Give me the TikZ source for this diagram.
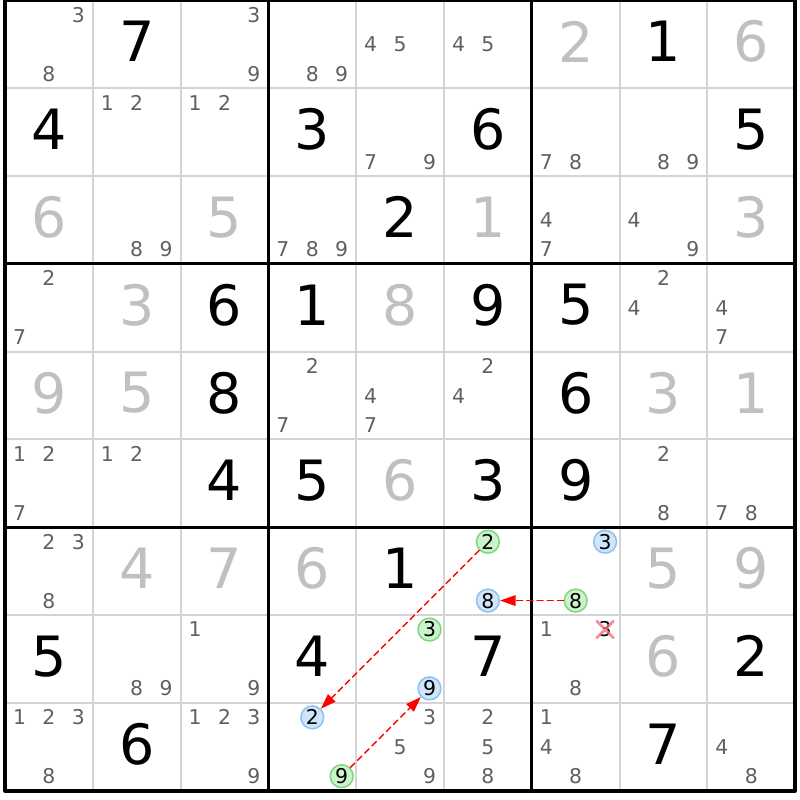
\documentclass[tikz,border=0pt]{standalone}
\usepackage{fontspec}
\setmainfont{DejaVu Sans}
\usetikzlibrary{arrows.meta}

\definecolor{solvedgray}{HTML}{C0C0C0}
\definecolor{candgray}{HTML}{606060}
\definecolor{thingrid}{HTML}{D4D4D4}
\definecolor{bluefill}{HTML}{CFE5FB}
\definecolor{blueline}{HTML}{8FC2EE}
\definecolor{greenfill}{HTML}{CDF3CD}
\definecolor{greenline}{HTML}{7ED77E}
\definecolor{crossred}{HTML}{F07880}

\tikzset{
  given/.style={font=\fontsize{18}{18}\selectfont, text=black, inner sep=0pt},
  solved/.style={given, text=solvedgray},
  cand/.style={font=\fontsize{6.6}{6.6}\selectfont, text=candgray, inner sep=0pt},
  greenmark/.style={cand, text=black, circle, draw=greenline, fill=greenfill,
    line width=0.5pt, minimum size=0.26cm},
  bluemark/.style={greenmark, draw=blueline, fill=bluefill},
  link/.style={red, dash pattern=on 2pt off 1.3pt, line width=0.45pt,
    -{Triangle[length=5pt,width=3.4pt]}}
}

\begin{document}
\begin{tikzpicture}[y=-1cm, line cap=round, line join=round]
    \useasboundingbox (-0.057,-0.0057) rectangle (9.055,9.106);

    % grid
    \foreach \i in {1,2,4,5,7,8} {
      \draw[thingrid, line width=0.65pt, line cap=butt] (\i,0) -- (\i,9);
      \draw[thingrid, line width=0.65pt, line cap=butt] (0,\i) -- (9,\i);
    }
    \foreach \i in {3,6} {
      \draw[line width=1pt, line cap=butt] (\i,0) -- (\i,9);
      \draw[line width=1pt, line cap=butt] (0,\i) -- (9,\i);
    }
    \draw[line width=1.3pt, line cap=butt] (0,0) rectangle (9,9); % border

    % given digits
    \foreach \r/\c/\d in {0/1/7, 0/7/1, 1/0/4, 1/3/3, 1/5/6, 1/8/5, 2/4/2,
        3/2/6, 3/3/1, 3/5/9, 3/6/5, 4/2/8, 4/6/6, 5/2/4, 5/3/5, 5/5/3, 5/6/9,
        6/4/1, 7/0/5, 7/3/4, 7/5/7, 7/8/2, 8/1/6, 8/7/7}
      \node[given] (n\r\c) at (\c+0.5,\r+0.47) {\d};

    % solved digits
    \foreach \r/\c/\d in {0/6/2, 0/8/6, 2/0/6, 2/2/5, 2/5/1, 2/8/3, 3/1/3,
        3/4/8, 4/0/9, 4/1/5, 4/7/3, 4/8/1, 5/4/6, 6/1/4, 6/2/7, 6/3/6, 6/7/5,
        6/8/9, 7/7/6}
      \node[solved] (n\r\c) at (\c+0.5,\r+0.47) {\d};

    % candidates
    \foreach \r/\c/\ds in {0/0/{3,8}, 0/2/{3,9}, 0/3/{8,9}, 0/4/{4,5}, 0/5/{4,5},
        1/1/{1,2}, 1/2/{1,2}, 1/4/{7,9}, 1/6/{7,8}, 1/7/{8,9},
        2/1/{8,9}, 2/3/{7,8,9}, 2/6/{4,7}, 2/7/{4,9},
        3/0/{2,7}, 3/7/{2,4}, 3/8/{4,7},
        4/3/{2,7}, 4/4/{4,7}, 4/5/{2,4},
        5/0/{1,2,7}, 5/1/{1,2}, 5/7/{2,8}, 5/8/{7,8},
        6/0/{2,3,8}, 7/1/{8,9}, 7/2/{1,9}, 7/6/{1,8},
        8/0/{1,2,3,8}, 8/2/{1,2,3,9}, 8/4/{3,5,9}, 8/5/{2,5,8},
        8/6/{1,4,8}, 8/8/{4,8}} {
      \foreach \d in \ds {
        \node[cand] (c\r\c\d) at ({\c+0.5+0.335*(mod(\d-1,3)-1)},
                                  {\r+0.5+0.335*(int((\d-1)/3)-1)}) {\d};
      }
    }

    % marked candidates
    \node[greenmark] (c652) at (5.5,6.165) {2};
    \node[bluemark]  (c658) at (5.5,6.835) {8};
    \node[bluemark]  (c663) at (6.835,6.165) {3};
    \node[greenmark] (c668) at (6.5,6.835) {8};
    \node[greenmark] (c743) at (4.835,7.165) {3};
    \node[bluemark]  (c749) at (4.835,7.835) {9};
    \node[bluemark]  (c832) at (3.5,8.165) {2};
    \node[greenmark] (c839) at (3.835,8.835) {9};

    % removed candidate
    \node[cand, text=black] (c763) at (6.835,7.165) {3};
    \draw[crossred, opacity=0.8, line width=0.9pt]
      ([shift={(-0.095,-0.095)}]c763.center) -- ([shift={(0.095,0.095)}]c763.center)
      ([shift={(-0.095,0.095)}]c763.center) -- ([shift={(0.095,-0.095)}]c763.center);

    % links
    \draw[link] (c652) -- (c832);
    \draw[link] (c668) -- (c658);
    \draw[link] (c839) -- (c749);

\end{tikzpicture}
\end{document}
